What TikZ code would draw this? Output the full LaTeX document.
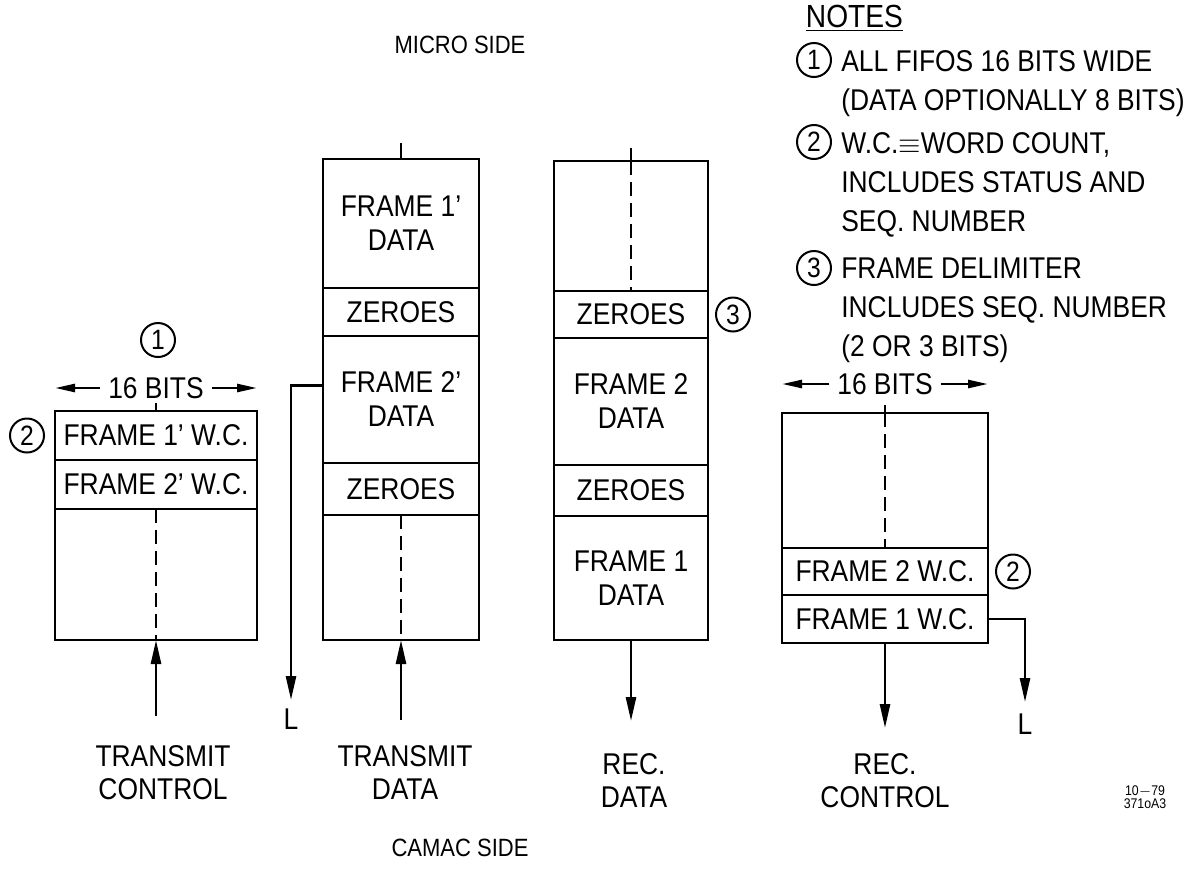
\documentclass[tikz,border=0pt]{standalone}
\usepackage{fontspec}
\setmainfont{Liberation Sans}[FakeStretch=0.88]
\usetikzlibrary{positioning,arrows.meta}

\begin{document}
\begin{tikzpicture}[
  x=0.5pt, y=-0.5pt,
  font=\fontsize{15}{17}\selectfont,
  line width=1.3pt,
  cell/.style={draw, inner sep=0pt, outer sep=0pt, align=center, anchor=north},
  tcell/.style={cell, minimum width=101pt},
  dcell/.style={cell, minimum width=78pt},
  rcell/.style={cell, minimum width=77pt},
  ccell/.style={cell, minimum width=103pt},
  num/.style={circle, draw, inner sep=0pt, minimum size=17pt, line width=1pt,
              font=\fontsize{14}{14}\selectfont},
  arr/.style={-{Triangle[length=12pt, width=5pt]}},
  barr/.style={-{Triangle[length=10pt, width=4pt]}},
  dline/.style={dash pattern=on 7pt off 3.5pt},
  lab/.style={align=center, font=\fontsize{15}{16.5}\selectfont},
  note/.style={anchor=north west, align=left, inner sep=0pt,
               font=\fontsize{15}{19.5}\selectfont},
  node distance=0pt
]
\useasboundingbox (0,0) rectangle (1192,868);
% ----- side titles -----
\node[font=\fontsize{12.5}{13}\selectfont] (micro) at (460,45) {MICRO SIDE};
\node[font=\fontsize{12.5}{13}\selectfont] (camac) at (460,848) {CAMAC SIDE};
% ----- transmit control fifo -----
\node[tcell, minimum height=24.5pt] (tcA) at (156,411) {FRAME 1' W.C.};
\node[tcell, minimum height=24.5pt, below=of tcA] (tcB) {FRAME 2' W.C.};
\node[tcell, minimum height=65.5pt, below=of tcB] (tcC) {};
\draw (tcA.north) -- ++(0,-8);
\draw[dline] (tcC.north) -- (tcC.south);
\node (bitsL) at (156,388) {16 BITS};
\draw[barr] (bitsL.west) -- (bitsL.west -| tcA.west);
\draw[barr] (bitsL.east) -- (bitsL.east -| tcA.east);
\node[num] (c1) at (158,340) {1};
\node[num, left=5pt of tcA] (c2a) {2};
% ----- transmit data fifo -----
\node[dcell, minimum height=64.5pt] (tdA) at (401,159) {FRAME 1'\\DATA};
\node[dcell, minimum height=24pt, below=of tdA] (tdB) {ZEROES};
\node[dcell, minimum height=63.5pt, below=of tdB] (tdC) {FRAME 2'\\DATA};
\node[dcell, minimum height=26pt, below=of tdC] (tdD) {ZEROES};
\node[dcell, minimum height=62.5pt, below=of tdD] (tdE) {};
\draw (tdA.north) -- ++(0,-16);
\draw[dline] (tdE.north) -- (tdE.south);
% ----- receive data fifo -----
\node[rcell, minimum height=65pt] (rdA) at (631,161) {};
\node[rcell, minimum height=23.5pt, below=of rdA] (rdB) {ZEROES};
\node[rcell, minimum height=63.5pt, below=of rdB] (rdC) {FRAME 2\\DATA};
\node[rcell, minimum height=25.5pt, below=of rdC] (rdD) {ZEROES};
\node[rcell, minimum height=62pt, below=of rdD] (rdE) {FRAME 1\\DATA};
\draw (rdA.north) -- ++(0,-13);
\draw[dline] (rdA.north) -- (rdA.south);
\node[num, right=3.5pt of rdB] (c3) {3};
% ----- receive control fifo -----
\node[ccell, minimum height=67.5pt] (rcA) at (885,413) {};
\node[ccell, minimum height=23.5pt, below=of rcA] (rcB) {FRAME 2 W.C.};
\node[ccell, minimum height=24pt, below=of rcB] (rcC) {FRAME 1 W.C.};
\draw (rcA.north) -- ++(0,-8);
\draw[dline] (rcA.north) -- (rcA.south);
\node (bitsR) at (885,384) {16 BITS};
\draw[barr] (bitsR.west) -- (bitsR.west -| rcA.west);
\draw[barr] (bitsR.east) -- (bitsR.east -| rcA.east);
\node[num, right=3.5pt of rcB] (c2b) {2};
% ----- camac side connections -----
\coordinate (tcIn) at (156,716);
\coordinate (tdIn) at (401,720);
\coordinate (rdOut) at (631,721);
\coordinate (rcOut) at (885,728);
\coordinate (lT) at (291,700);
\coordinate (lR) at (1025,702);
\draw[arr] (tcIn) -- (tcC.south);
\draw[arr] (tdIn) -- (tdE.south);
\draw[arr] (rdE.south) -- (rdOut);
\draw[arr] (rcC.south) -- (rcOut);
\draw[arr] ([yshift=7pt]tdC.west) -| (lT);
\draw[arr] (rcC.east) -| (lR);
\node[lab] (lTl) at (291,719) {L};
\node[lab] (lRl) at (1025,724) {L};
\node[lab] (tcLab) at (163,773) {TRANSMIT\\CONTROL};
\node[lab] (tdLab) at (405,773) {TRANSMIT\\DATA};
\node[lab] (rdLab) at (634,781) {REC.\\DATA};
\node[lab] (rcLab) at (885,781) {REC.\\CONTROL};
\node[align=center, font=\fontsize{7}{6.5}\selectfont] (ref) at (1145,797) {10$-$79\\371oA3};
% ----- notes -----
\node[anchor=west, font=\fontsize{16}{16}\selectfont] (notes) at (798,18) {\underline{NOTES}};
\node[num] (n1) at (814,60) {1};
\node[note] (t1) at (840,49) {ALL FIFOS 16 BITS WIDE\\(DATA OPTIONALLY 8 BITS)};
\node[num] (n2) at (814,142) {2};
\node[note] (t2) at (840,131) {W.C.$\equiv$WORD COUNT,\\INCLUDES STATUS AND\\SEQ. NUMBER};
\node[num] (n3) at (814,268) {3};
\node[note] (t3) at (840,257) {FRAME DELIMITER\\INCLUDES SEQ. NUMBER\\(2 OR 3 BITS)};
\end{tikzpicture}
\end{document}
